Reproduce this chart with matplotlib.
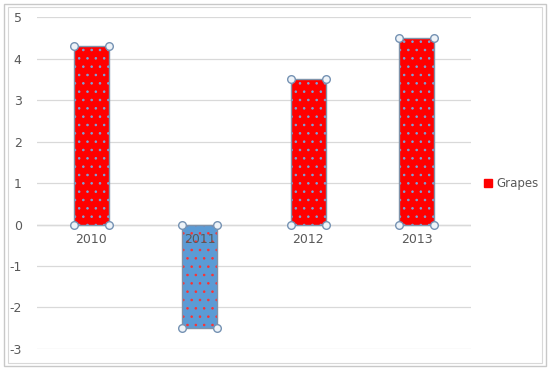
import matplotlib.pyplot as plt
from matplotlib.patches import Rectangle
from matplotlib.lines import Line2D

years = ["2010", "2011", "2012", "2013"]
grapes = [4.3, -2.5, 3.5, 4.5]
fills = ["#ff0000", "#5b9bd5", "#ff0000", "#ff0000"]
dots = ["#7aa6dc", "#ff3030", "#7aa6dc", "#7aa6dc"]
yticks = [-3, -2, -1, 0, 1, 2, 3, 4, 5]

plt.rcParams['font.family'] = ['DejaVu Sans']
plt.rcParams['hatch.linewidth'] = 0.6

fig = plt.figure(figsize=(5.5, 3.7), dpi=100)
ax = fig.add_axes([0.0673, 0.0568, 0.789, 0.897])

x = list(range(len(years)))
w = 0.32
for xi, v, fc, dc in zip(x, grapes, fills, dots):
    ax.bar(xi, v, width=w, color=fc, edgecolor=dc, linewidth=0, hatch='..', zorder=2)
    ax.bar(xi, v, width=w, fill=False, edgecolor="#7f93aa", linewidth=1, zorder=3)
    cx = [xi - w / 2, xi + w / 2, xi - w / 2, xi + w / 2]
    cy = [0, 0, v, v]
    ax.plot(cx, cy, 'o', ms=5.5, mfc="#eef3f8", mec="#7592b3", mew=1, zorder=4, ls='none')

ax.set_xlim(-0.5, 3.5)
ax.set_ylim(-3, 5)
ax.set_yticks(yticks)
ax.set_yticklabels([str(t) for t in yticks], fontsize=9, color="#595959")
ax.tick_params(axis='y', length=0, pad=11)
ax.set_xticks([])
for s in ax.spines.values():
    s.set_visible(False)
ax.grid(axis='y', color="#d9d9d9", linewidth=0.9, zorder=0)
ax.axhline(0, color="#bfbfbf", linewidth=0.9, zorder=1)

for xi, lab in zip(x, years):
    ax.text(xi, -0.2, lab, ha='center', va='top', fontsize=9, color="#595959", zorder=5)

handle = Line2D([], [], marker='s', color='none', mfc="#ff0000", mec="#ff0000", ms=5.5)
fig.legend([handle], ["Grapes"], loc='center left', bbox_to_anchor=(0.862, 0.503),
           frameon=False, fontsize=8.5, handlelength=0.6, handletextpad=0.4,
           labelcolor="#595959")

# outer frame of the chart object
fig.patches.append(Rectangle((0.008, 0.011), 0.984, 0.978, transform=fig.transFigure,
                             fill=False, edgecolor="#c8c8c8", linewidth=1))
fig.patches.append(Rectangle((0.015, 0.018), 0.970, 0.964, transform=fig.transFigure,
                             fill=False, edgecolor="#d8d8d8", linewidth=0.8))

fig.savefig("out.png", dpi=100)
